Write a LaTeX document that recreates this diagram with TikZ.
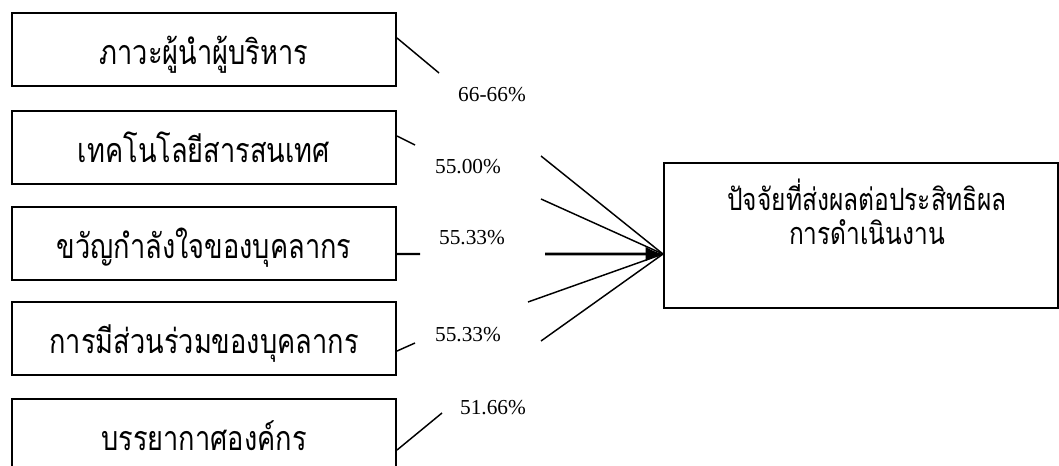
\documentclass[tikz,border=0pt]{standalone}
\usepackage{fontspec}
\setmainfont{Liberation Serif}
\newfontfamily\thaifont[Script=Thai,FakeStretch=0.8]{Loma}
\usetikzlibrary{arrows.meta}
\begin{document}
\begin{tikzpicture}[x=0.75pt,y=-0.75pt,
    factor/.style={draw,line width=1.5pt,minimum width=288pt,minimum height=54.75pt,
      text height=24.5pt,text depth=2.5pt,font=\thaifont\fontsize{25.5}{28}\selectfont},
    pct/.style={font=\fontsize{16}{18}\selectfont},
    link/.style={line width=1.1pt}]
\useasboundingbox (0,0) rectangle (1059,466);
% factors, left column
\node[factor] (lead)    at (204,50)    {ภาวะผู้นำผู้บริหาร};
\node[factor] (tech)    at (204,147.5) {เทคโนโลยีสารสนเทศ};
\node[factor] (morale)  at (204,243.5) {ขวัญกำลังใจของบุคลากร};
\node[factor] (part)    at (204,338.5) {การมีส่วนร่วมของบุคลากร};
\node[factor] (climate) at (204,435.5) {บรรยากาศองค์กร};
% outcome box, two lines of text
\node[draw,line width=1.5pt,minimum width=295.5pt,minimum height=108.75pt] (result) at (861,235.5) {};
\node[anchor=base,font=\thaifont\fontsize{23}{25}\selectfont] (res1) at (867,211) {ปัจจัยที่ส่งผลต่อประสิทธิผล};
\node[anchor=base,font=\thaifont\fontsize{23}{25}\selectfont] (res2) at (867,245) {การดำเนินงาน};
% percentages
\node[pct] (p1) at (492,95)  {66-66\%};
\node[pct] (p2) at (468,167) {55.00\%};
\node[pct] (p3) at (472,238) {55.33\%};
\node[pct] (p4) at (468,335) {55.33\%};
\node[pct] (p5) at (493,408) {51.66\%};
% line ends either side of the labels
\coordinate (tip) at ([yshift=-13.9pt]result.west);
\coordinate (a1) at (439,73);  \coordinate (b1) at (541,156);
\coordinate (a2) at (415,145); \coordinate (b2) at (541,199);
\coordinate (a3) at (420,254); \coordinate (b3) at (545,254);
\coordinate (a4) at (415,343); \coordinate (b4) at (528,302);
\coordinate (a5) at (442,413); \coordinate (b5) at (541,341);
\draw[link] ([yshift=9pt]lead.east) -- (a1);
\draw[link] ([yshift=8.6pt]tech.east) -- (a2);
\draw[link,line width=1.8pt] ([yshift=-7.9pt]morale.east) -- (a3);
\draw[link] ([yshift=-9.4pt]part.east) -- (a4);
\draw[link] ([yshift=-10.9pt]climate.east) -- (a5);
\draw[link] (b1) -- (tip);
\draw[link] (b2) -- (tip);
\draw[link,line width=2.2pt,-{Latex[length=13pt,width=11pt]}] (b3) -- (tip);
\draw[link] (b4) -- (tip);
\draw[link] (b5) -- (tip);
\end{tikzpicture}
\end{document}
